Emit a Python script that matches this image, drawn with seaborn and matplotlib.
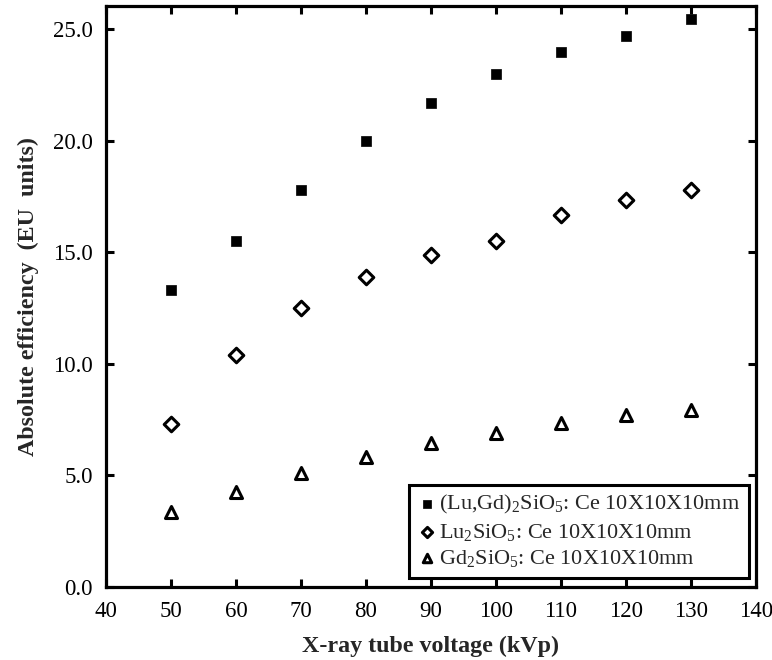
import numpy as np
import pandas as pd
import matplotlib
matplotlib.use("Agg")
import matplotlib.pyplot as plt
import seaborn as sns

# values
voltage = [50, 60, 70, 80, 90, 100, 110, 120, 130]
lugdso = [13.3, 15.5, 17.8, 20.0, 21.7, 23.0, 24.0, 24.7, 25.45]
lso = [7.3, 10.4, 12.5, 13.9, 14.9, 15.5, 16.7, 17.35, 17.8]
gso = [3.35, 4.25, 5.1, 5.85, 6.45, 6.9, 7.35, 7.7, 7.95]

labels = [r"(Lu,Gd)$_2$SiO$_5$: Ce 10X10X10mm",
          r"Lu$_2$SiO$_5$: Ce 10X10X10mm",
          r"Gd$_2$SiO$_5$: Ce 10X10X10mm"]

sns.set_style("ticks")
plt.rcParams['font.family'] = ['Liberation Serif', 'DejaVu Serif']
plt.rcParams['mathtext.fontset'] = 'custom'
plt.rcParams['mathtext.rm'] = 'Liberation Serif'
plt.rcParams['mathtext.it'] = 'Liberation Serif'

fig = plt.figure(figsize=(7.72, 6.6), dpi=100)
ax = fig.add_axes([0.1373, 0.1106, 0.8417, 0.8803])

sns.scatterplot(x=voltage, y=lugdso, marker='s', s=60, color='black',
                edgecolor='black', linewidth=0.5, label=labels[0], ax=ax)
sns.scatterplot(x=voltage, y=lso, marker='D', s=55, facecolor='white',
                edgecolor='black', linewidth=2.2, label=labels[1], ax=ax)
sns.scatterplot(x=voltage, y=gso, marker='^', s=75, facecolor='white',
                edgecolor='black', linewidth=2.2, label=labels[2], ax=ax)

ax.set_xlim(40, 140)
ax.set_ylim(0, 26.05)
ax.set_xticks(np.arange(40, 141, 10))
ax.set_yticks(np.arange(0, 26, 5))
ax.set_yticklabels(["%.1f" % v for v in np.arange(0, 26, 5)])

for sp in ax.spines.values():
    sp.set_linewidth(2.3)
    sp.set_color('black')
ax.tick_params(direction='in', length=6, width=2.2, top=True, right=True,
               labelsize=16.5, colors='black')
ax.tick_params(axis='x', pad=10)
ax.tick_params(axis='y', pad=9.5)

ax.set_xlabel("X-ray tube voltage (kVp)", fontsize=17.3, fontweight='bold', labelpad=10)
ax.set_ylabel("Absolute efficiency  (EU  units)", fontsize=17.3, fontweight='bold', labelpad=10)

leg = ax.legend(loc='lower right', bbox_to_anchor=(0.989, 0.0155), fontsize=16,
                frameon=True, fancybox=False, edgecolor='black', framealpha=1,
                borderpad=0.4, handletextpad=0.12, labelspacing=0.24,
                handlelength=0.8, markerscale=0.7, borderaxespad=0)
leg.get_frame().set_linewidth(2.2)

fig.savefig("out.png", dpi=100)
